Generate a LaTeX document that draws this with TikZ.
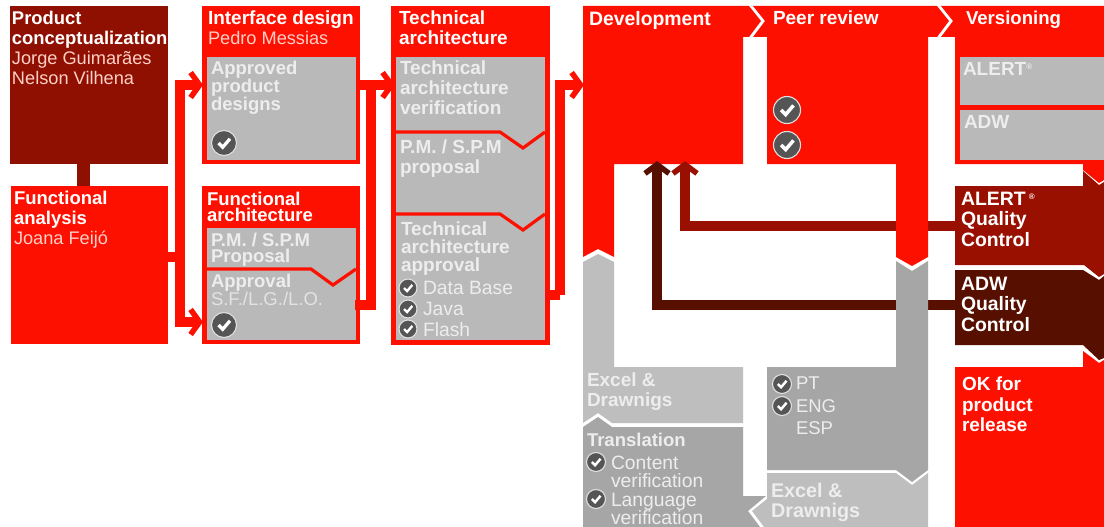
\documentclass[tikz,border=0pt]{standalone}
\usepackage{fontspec}
\setmainfont{Liberation Sans}
\usetikzlibrary{arrows.meta}
\definecolor{redM}{HTML}{FE1000}
\definecolor{maroon}{HTML}{8F0F00}
\definecolor{alertQ}{HTML}{991000}
\definecolor{adwQ}{HTML}{570F00}
\definecolor{grayA}{HTML}{B9B9B9}
\definecolor{grayB}{HTML}{A6A6A6}
\definecolor{grayC}{HTML}{BEBEBE}
\definecolor{pinkT}{HTML}{FFD0C8}
\definecolor{softT}{HTML}{EDEDED}
\definecolor{chk}{HTML}{555555}
\newcommand\nm[1]{\textcolor{pinkT}{\mdseries\fontsize{18.2}{20}\selectfont #1}}
\newcommand\rg{\raisebox{5.5pt}{\fontsize{8}{8}\selectfont ®}}
\tikzset{
  boxn/.style={anchor=north west,inner sep=0pt,outer sep=0pt,minimum width=#1},
  lab/.style={anchor=north west,inner sep=0pt,outer sep=0pt,align=left,text=white},
  tb/.style 2 args={font=\fontsize{#1}{#2}\selectfont\bfseries},
  tr/.style 2 args={font=\fontsize{#1}{#2}\selectfont},
  divline/.style={draw=redM,line width=3.2pt,miter limit=10},
  flow/.style={draw=redM,line width=10pt},
  flowtip/.style={flow,-{Straight Barb[length=9pt,width=25pt,line width=5.5pt]}},
  qa/.style={draw=alertQ,line width=10pt,-{Straight Barb[length=9pt,width=24pt,line width=5.5pt]}},
  qd/.style={draw=adwQ,line width=10pt,-{Straight Barb[length=9pt,width=24pt,line width=5.5pt]}},
  badge/.style={circle,fill=chk,draw=white!88!black,line width=1.1pt,inner sep=0pt,minimum size=#1},
}
% name, x, y, w, h, colour
\newcommand\rbox[6]{\node[boxn=#4 pt,minimum height=#5 pt,fill=#6] (#1) at (#2,#3) {};}
% name, x, first baseline, style, text
\newcommand\lbl[5]{\node[lab,#4] (#1) at (#2,{#3-13}) {#5};}
% name, x, y, diameter
\newcommand\chkm[4]{\node[badge=#4 pt] (#1) at (#2,#3) {};
  \draw[white,line width=#4*0.13 pt,line join=miter] ([shift={(-#4*0.22,#4*0.0)}]#1.center) -- ([shift={(-#4*0.05,#4*0.17)}]#1.center) -- ([shift={(#4*0.24,-#4*0.17)}]#1.center);}
\begin{document}
\begin{tikzpicture}[x=1pt,y=-1pt]
\useasboundingbox (0,0) rectangle (1104,527);
\fill[white] (0,0) rectangle (1104,527);
% first column
\rbox{pc}{10}{6}{158}{158}{maroon}
\rbox{fa}{11}{186}{157}{158}{redM}
\coordinate (pcOut) at (83.5,164);
\coordinate (faTop) at (83.5,186);
\draw[maroon,line width=13pt] (pcOut) -- (faTop);
% second column
\rbox{idb}{202}{6}{158}{158}{redM}
\rbox{idg}{207}{57}{149}{103}{grayA}
\rbox{fab}{202}{186}{158}{158}{redM}
\rbox{fag}{207}{228}{149}{112}{grayA}
\draw[divline] (207,269) -- (311,269) -- (333,285) -- (356,269);
% third column
\rbox{tab}{391}{6}{159}{339}{redM}
\rbox{tag}{396}{57}{149}{283}{grayA}
\draw[divline] (396,132) -- (500,132) -- (523,148) -- (545,132);
\draw[divline] (396,214) -- (500,214) -- (523,230) -- (545,214);
% connectors between the columns
\coordinate (faOut) at (168,257);
\coordinate (j1) at (180,257);
\coordinate (idIn) at (203,85);
\coordinate (fbIn) at (203,322);
\draw[flow] (faOut) -- (j1);
\draw[flowtip] (j1) |- (idIn);
\draw[flowtip] (j1) |- (fbIn);
\coordinate (idOut) at (360,85);
\coordinate (fbOut) at (360,305);
\coordinate (j2) at (370.5,85);
\coordinate (taIn) at (395,85);
\draw[flowtip] (idOut) -- (taIn);
\draw[flow,line cap=rect] (j2) |- (fbOut);
\coordinate (taOut) at (550,295);
\coordinate (j3) at (559.5,295);
\coordinate (devIn) at (584,85);
\draw[flow] (taOut) -- (j3);
\draw[flowtip] (j3) |- (devIn);
% Development
\fill[redM] (583,6) -- (749,6) -- (761,21) -- (749,37) -- (743,37) -- (743,164) -- (614,164) -- (614,257) -- (598,249) -- (583,257) -- cycle;
\coordinate (devA) at (685,161);
\coordinate (devB) at (657,161);
\coordinate (aqOut) at (955,225.5);
\coordinate (dqOut) at (955,304.5);
\draw[qa] (aqOut) -| (devA);
\draw[qd] (dqOut) -| (devB);
% Peer review
\fill[redM] (753,6) -- (937,6) -- (949,21) -- (937,37) -- (928,37) -- (928,257) -- (912,266) -- (896,257) -- (896,164) -- (767,164) -- (767,37) -- (753,37) -- (765,21) -- cycle;
% Versioning
\fill[redM] (941,6) -- (1104,6) -- (1104,180) -- (1099,183) -- (1083,170) -- (1083,164) -- (955,164) -- (955,37) -- (941,37) -- (953,21) -- cycle;
\rbox{vga}{960}{57}{144}{48}{grayA}
\rbox{vgb}{960}{110}{144}{50}{grayA}
% quality control
\fill[alertQ] (955,186) -- (1083,186) -- (1083,171) -- (1099,185) -- (1104,182) -- (1104,274) -- (1099,277) -- (1084,265) -- (955,265) -- cycle;
\fill[adwQ] (955,270) -- (1083,270) -- (1099,280) -- (1104,276) -- (1104,358) -- (1099,360) -- (1083,345) -- (955,345) -- cycle;
\fill[redM] (955,367) -- (1083,367) -- (1083,351) -- (1099,363) -- (1104,360) -- (1104,527) -- (955,527) -- cycle;
% grey legs
\fill[grayC] (583,262) -- (598,254) -- (614,262) -- (614,367) -- (743,367) -- (743,423) -- (612,423) -- (598,413) -- (583,423) -- cycle;
\fill[grayB] (583,427) -- (598,417) -- (612,427) -- (743,427) -- (743,496) -- (766,496) -- (748,511) -- (760,527) -- (583,527) -- cycle;
\fill[grayB] (896,261) -- (912,271) -- (928,261) -- (928,470) -- (912,482) -- (896,470) -- (767,470) -- (767,367) -- (896,367) -- cycle;
\fill[grayC] (767,473) -- (896,473) -- (912,485) -- (928,473) -- (928,527) -- (764,527) -- (752,511) -- (767,499) -- cycle;
% texts
\lbl{t1}{12}{24}{tb={18.4}{20}}{Product\\conceptualization\\\nm{Jorge Guimarães}\\\nm{Nelson Vilhena}}
\lbl{t2}{14}{204}{tb={18.5}{20}}{Functional\\analysis\\\nm{Joana Feijó}}
\lbl{t3}{208}{24}{tb={19}{20}}{Interface design\\\nm{Pedro Messias}}
\lbl{t4}{211}{74}{tb={18.5}{18},text=softT}{Approved\\product\\designs}
\lbl{t5}{207}{205}{tb={18.5}{16.5}}{Functional\\architecture}
\lbl{t6}{211}{246}{tb={18.5}{16},text=softT}{P.M. / S.P.M\\Proposal}
\lbl{t7}{211}{287}{tb={18.5}{18},text=softT}{Approval\\\textcolor{softT!80!grayA}{\mdseries S.F./L.G./L.O.}}
\lbl{t8}{399}{24}{tb={19}{20}}{Technical\\architecture}
\lbl{t9}{400}{74}{tb={19}{20},text=softT}{Technical\\architecture\\verification}
\lbl{t10}{400}{153}{tb={19}{20},text=softT}{P.M. / S.P.M\\proposal}
\lbl{t11}{401}{235}{tb={19}{18},text=softT}{Technical\\architecture\\approval}
\lbl{t12}{423}{294}{tr={19.3}{21},text=softT}{Data Base\\Java\\Flash}
\lbl{t13}{589}{24}{tb={19.4}{20}}{Development}
\lbl{t14}{773}{24}{tb={19}{20}}{Peer review}
\lbl{t15}{966}{24}{tb={18.6}{20}}{Versioning}
\lbl{t16}{963}{75}{tb={19}{20},text=softT}{ALERT\rg}
\lbl{t17}{964}{128}{tb={19}{20},text=softT}{ADW}
\lbl{t18}{961}{205}{tb={19.4}{20.5}}{ALERT\,\rg\\Quality\\Control}
\lbl{t19}{961}{290}{tb={19.4}{20.5}}{ADW\\Quality\\Control}
\lbl{t20}{962}{390}{tb={19}{20.5}}{OK for\\product\\release}
\lbl{t21}{587}{386}{tb={19}{20},text=softT}{Excel \&\\Drawnigs}
\lbl{t22}{587}{446}{tb={18.5}{20},text=softT}{Translation}
\lbl{t23}{611}{469}{tr={19.3}{18.3},text=softT}{Content\\verification\\Language\\verification}
\lbl{t24}{796}{390}{tr={18.5}{22.5},text=softT}{PT\\ENG\\ESP}
\lbl{t25}{771}{496}{tb={19.8}{20},text=softT}{Excel \&\\Drawnigs}
% check badges
\chkm{c1}{224}{143}{25}
\chkm{c2}{224}{325}{25}
\chkm{c3}{787}{110}{27}
\chkm{c4}{787}{145}{27}
\chkm{c5}{408}{288}{18}
\chkm{c6}{408}{309}{18}
\chkm{c7}{408}{329}{18}
\chkm{c8}{782}{384}{19}
\chkm{c9}{782}{406}{19}
\chkm{c10}{596}{462}{19}
\chkm{c11}{596}{499}{19}
\end{tikzpicture}
\end{document}
